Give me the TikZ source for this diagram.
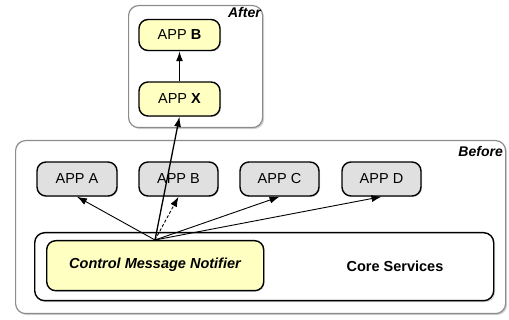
\documentclass[tikz,border=0pt]{standalone}
\usepackage{fontspec}
\setmainfont{Liberation Sans}
\usetikzlibrary{arrows.meta,shadows}
\definecolor{appgrey}{RGB}{224,224,224}
\definecolor{appyellow}{RGB}{255,255,194}
\definecolor{framegrey}{RGB}{140,140,140}
\begin{document}
\begin{tikzpicture}[x=1pt,y=-1pt,
  frame/.style={draw=framegrey,line width=1.2pt,fill=white,rounded corners=10pt,
    drop shadow={shadow xshift=1.5pt,shadow yshift=-1.5pt,opacity=0.35}},
  appbox/.style={draw=black,line width=1.4pt,rounded corners=9pt,fill=appgrey,
    minimum width=80pt,minimum height=34pt,inner sep=0pt,font=\fontsize{14.5}{16}\selectfont,
    drop shadow={shadow xshift=1pt,shadow yshift=-1pt,opacity=0.3}},
  yapp/.style={appbox,fill=appyellow},
  arr/.style={line width=0.9pt,-{Latex[length=10pt,width=7pt]}},
  lbl/.style={font=\fontsize{14}{16}\selectfont\bfseries\itshape,inner sep=0pt}
]
\useasboundingbox (0,0) rectangle (509,320);
% After frame
\node[frame,minimum width=134pt,minimum height=122pt,anchor=north west] (after) at (128,5) {};
\node[lbl,anchor=north east] (afterlbl) at (261,7) {After};
\node[yapp,minimum width=81pt,minimum height=31pt] (appBa) at (179.5,35) {APP \textbf{B}};
\node[yapp,minimum width=81pt,minimum height=34pt] (appX) at (179.5,99) {APP \textbf{X}};
% Before frame
\node[frame,minimum width=490pt,minimum height=173pt,anchor=north west] (before) at (15,140) {};
\node[lbl,anchor=north east] (beforelbl) at (503,146) {Before};
\node[appbox] (appA) at (77,179) {APP A};
\node[appbox,minimum width=79pt] (appB) at (178.5,179) {APP B};
\node[appbox,minimum width=79pt] (appC) at (279.5,179) {APP C};
\node[appbox,minimum width=79pt] (appD) at (381.5,179) {APP D};
% Core services
\node[draw=black,line width=1.4pt,fill=white,rounded corners=10pt,minimum width=459pt,minimum height=68pt,anchor=north west,
  drop shadow={shadow xshift=1.5pt,shadow yshift=-1.5pt,opacity=0.3}] (core) at (34,232) {};
\node[font=\fontsize{14.5}{16}\selectfont\bfseries] (coretxt) at (395,266) {Core Services};
\node[yapp,minimum width=217pt,minimum height=50pt,anchor=north west] (cmn) at (46,240) {};
\node[font=\fontsize{14.5}{16}\selectfont\bfseries\itshape] (cmntxt) at (155,265) {Control Message Notifier};
\coordinate (src) at (155,240);
% connectors
\draw[arr] (src) -- (appA.south);
\draw[arr,dashed,dash pattern=on 3pt off 2pt] (src) -- (appB.south);
\draw[arr] (src) -- (appC.south);
\draw[arr] (src) -- (appD.south);
\draw[arr,line width=1.3pt] (src) -- (appX.south);
\draw[arr,line width=1.3pt] (appX.north) -- (appBa.south);
\end{tikzpicture}
\end{document}
